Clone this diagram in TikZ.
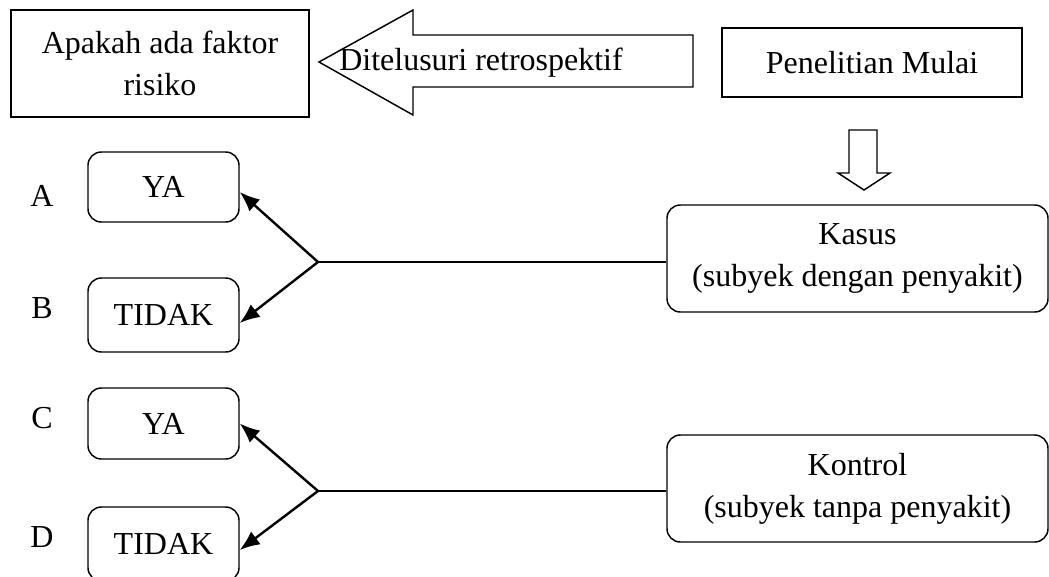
\documentclass[tikz,border=0pt]{standalone}
\usepackage{fontspec}
\setmainfont{Liberation Serif}
\usetikzlibrary{arrows.meta}

\begin{document}
\begin{tikzpicture}[x=0.75pt, y=-0.75pt,
    kotak/.style={draw, line width=1.1pt, inner sep=0pt, align=center,
        font=\fontsize{24}{31.5}\selectfont},
    kotakbulat/.style={kotak, rounded corners=10pt},
    garis/.style={line width=1.1pt},
    panah/.style={line width=1.8pt, -{Latex[length=15pt,width=12pt]}},
    huruf/.style={font=\fontsize{24}{31.5}\selectfont}]

    % Batas gambar
    \useasboundingbox (0,0) rectangle (1049,576);

    % Kotak atas
    \node[kotak, minimum width=223.5pt, minimum height=80.25pt] (faktor) at (160,63.5) {Apakah ada faktor\\risiko};
    \node[kotak, minimum width=225pt, minimum height=51.75pt] (mulai) at (872,62.5) {Penelitian Mulai};

    % Panah besar (ditelusuri ke belakang)
    \draw[garis, fill=white] (319,62) -- (413,10) -- (413,35) -- (693,35) -- (693,87) -- (413,87) -- (413,115) -- cycle;
    \node[huruf] (telusur) at (481,63) {Ditelusuri retrospektif};

    % Panah kecil ke bawah
    \draw[garis, fill=white] (849,130) -- (877,130) -- (877,173) -- (890,173) -- (864,190) -- (838,173) -- (849,173) -- cycle;

    % Kasus dan kontrol
    \node[kotakbulat, minimum width=285.75pt, minimum height=80.25pt] (kasus) at (857.5,258.5) {Kasus\\(subyek dengan penyakit)};
    \node[kotakbulat, minimum width=285.75pt, minimum height=80.25pt] (kontrol) at (857.5,488.5) {Kontrol\\(subyek tanpa penyakit)};

    % Kotak YA / TIDAK
    \node[kotakbulat, minimum width=113.25pt, minimum height=52.5pt] (yaA) at (163.5,187) {YA};
    \node[kotakbulat, minimum width=113.25pt, minimum height=55.5pt] (tidakB) at (163.5,315) {TIDAK};
    \node[kotakbulat, minimum width=113.25pt, minimum height=53.25pt] (yaC) at (163.5,423.5) {YA};
    \node[kotakbulat, minimum width=113.25pt, minimum height=55.5pt] (tidakD) at (163.5,544) {TIDAK};

    % Huruf kelompok
    \node[huruf] (lblA) at (42,196) {A};
    \node[huruf] (lblB) at (42,308) {B};
    \node[huruf] (lblC) at (42,418) {C};
    \node[huruf] (lblD) at (42,537) {D};

    % Titik cabang
    \coordinate (jAB) at (318,262);
    \coordinate (jCD) at (318,491);

    % Garis dan panah cabang
    \draw[garis] (jAB) -- (jAB -| kasus.west);
    \draw[panah] (jAB) -- ([yshift=-3.75pt]yaA.east);
    \draw[panah] (jAB) -- ([yshift=-6pt]tidakB.east);

    \draw[garis] (jCD) -- (jCD -| kontrol.west);
    \draw[panah] (jCD) -- (yaC.east);
    \draw[panah] (jCD) -- ([yshift=-4.5pt]tidakD.east);

\end{tikzpicture}
\end{document}
